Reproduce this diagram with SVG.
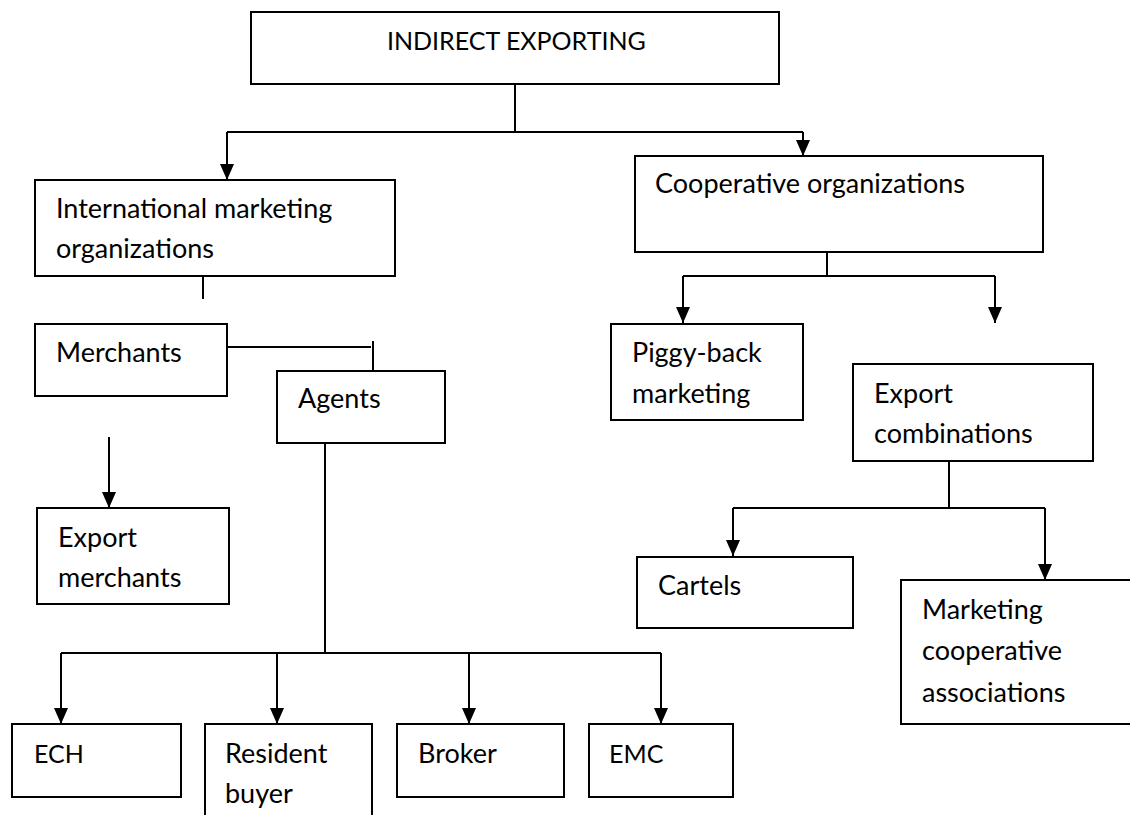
<svg xmlns="http://www.w3.org/2000/svg" width="1130" height="815" viewBox="0 0 1130 815">
<style>
.box{fill:#fff;stroke:#000;stroke-width:2}
.t{font-family:Lato,"Open Sans",sans-serif;font-size:27px;fill:#000}
.u{font-size:25px}
.c{fill:none;stroke:#000;stroke-width:2}
</style>
<defs>
<marker id="ah" viewBox="0 0 16 14" refX="16" refY="7" markerWidth="16" markerHeight="14" markerUnits="userSpaceOnUse" orient="auto">
<path d="M0,0 L16,7 L0,14 z" fill="#000"/>
</marker>
</defs>
<rect width="1130" height="815" fill="#fff"/>
<g id="connectors">
<path class="c" d="M515,84 V132 M227,132 H803"/>
<path class="c" d="M227,132 V180" marker-end="url(#ah)"/>
<path class="c" d="M803,132 V156" marker-end="url(#ah)"/>
<path class="c" d="M203,276 V299"/>
<path class="c" d="M227,347 H371" stroke-width="1.5"/>
<path class="c" d="M373,341 V387" marker-end="url(#ah)"/>
<path class="c" d="M109,437 V508" marker-end="url(#ah)"/>
<path class="c" d="M325,437 V653 M61,653 H661"/>
<path class="c" d="M61,653 V724" marker-end="url(#ah)"/>
<path class="c" d="M277,653 V724" marker-end="url(#ah)"/>
<path class="c" d="M469,653 V724" marker-end="url(#ah)"/>
<path class="c" d="M661,653 V724" marker-end="url(#ah)"/>
<path class="c" d="M827,252 V276 M683,276 H995"/>
<path class="c" d="M683,276 V323" marker-end="url(#ah)"/>
<path class="c" d="M995,276 V323" marker-end="url(#ah)"/>
<path class="c" d="M949,461 V508 M733,508 H1045"/>
<path class="c" d="M733,508 V556" marker-end="url(#ah)"/>
<path class="c" d="M1045,508 V580" marker-end="url(#ah)"/>
</g>
<g id="indirect-exporting"><rect class="box" x="251" y="12" width="528" height="72"/><text class="t u" x="387" y="50">INDIRECT EXPORTING</text></g>
<g id="international"><rect class="box" x="35" y="180" width="360" height="96"/><text class="t" x="56" y="218">International marketing</text><text class="t" x="56" y="258">organizations</text></g>
<g id="cooperative"><rect class="box" x="635" y="156" width="408" height="96"/><text class="t" x="655" y="193">Cooperative organizations</text></g>
<g id="merchants"><rect class="box" x="35" y="324" width="192" height="72"/><text class="t" x="56" y="362">Merchants</text></g>
<g id="agents"><rect class="box" x="277" y="371" width="168" height="72"/><text class="t" x="298" y="408">Agents</text></g>
<g id="piggyback"><rect class="box" x="611" y="324" width="192" height="96"/><text class="t" x="632" y="362">Piggy-back</text><text class="t" x="632" y="403">marketing</text></g>
<g id="export-combinations"><rect class="box" x="853" y="364" width="240" height="97"/><text class="t" x="874" y="403">Export</text><text class="t" x="874" y="443">combinations</text></g>
<g id="export-merchants"><rect class="box" x="37" y="508" width="192" height="96"/><text class="t" x="58" y="547">Export</text><text class="t" x="58" y="587">merchants</text></g>
<g id="cartels"><rect class="box" x="637" y="557" width="216" height="71"/><text class="t" x="658" y="595">Cartels</text></g>
<g id="marketing-coop"><rect class="box" x="901" y="580" width="240" height="144"/><text class="t" x="922" y="619">Marketing</text><text class="t" x="922" y="660">cooperative</text><text class="t" x="922" y="702">associations</text></g>
<g id="ech"><rect class="box" x="12" y="724" width="169" height="73"/><text class="t u" x="34" y="763">ECH</text></g>
<g id="resident-buyer"><rect class="box" x="205" y="724" width="167" height="110"/><text class="t" x="225" y="763">Resident</text><text class="t" x="225" y="803">buyer</text></g>
<g id="broker"><rect class="box" x="397" y="724" width="167" height="73"/><text class="t" x="418" y="763">Broker</text></g>
<g id="emc"><rect class="box" x="589" y="724" width="144" height="73"/><text class="t u" x="609" y="763">EMC</text></g>
</svg>
